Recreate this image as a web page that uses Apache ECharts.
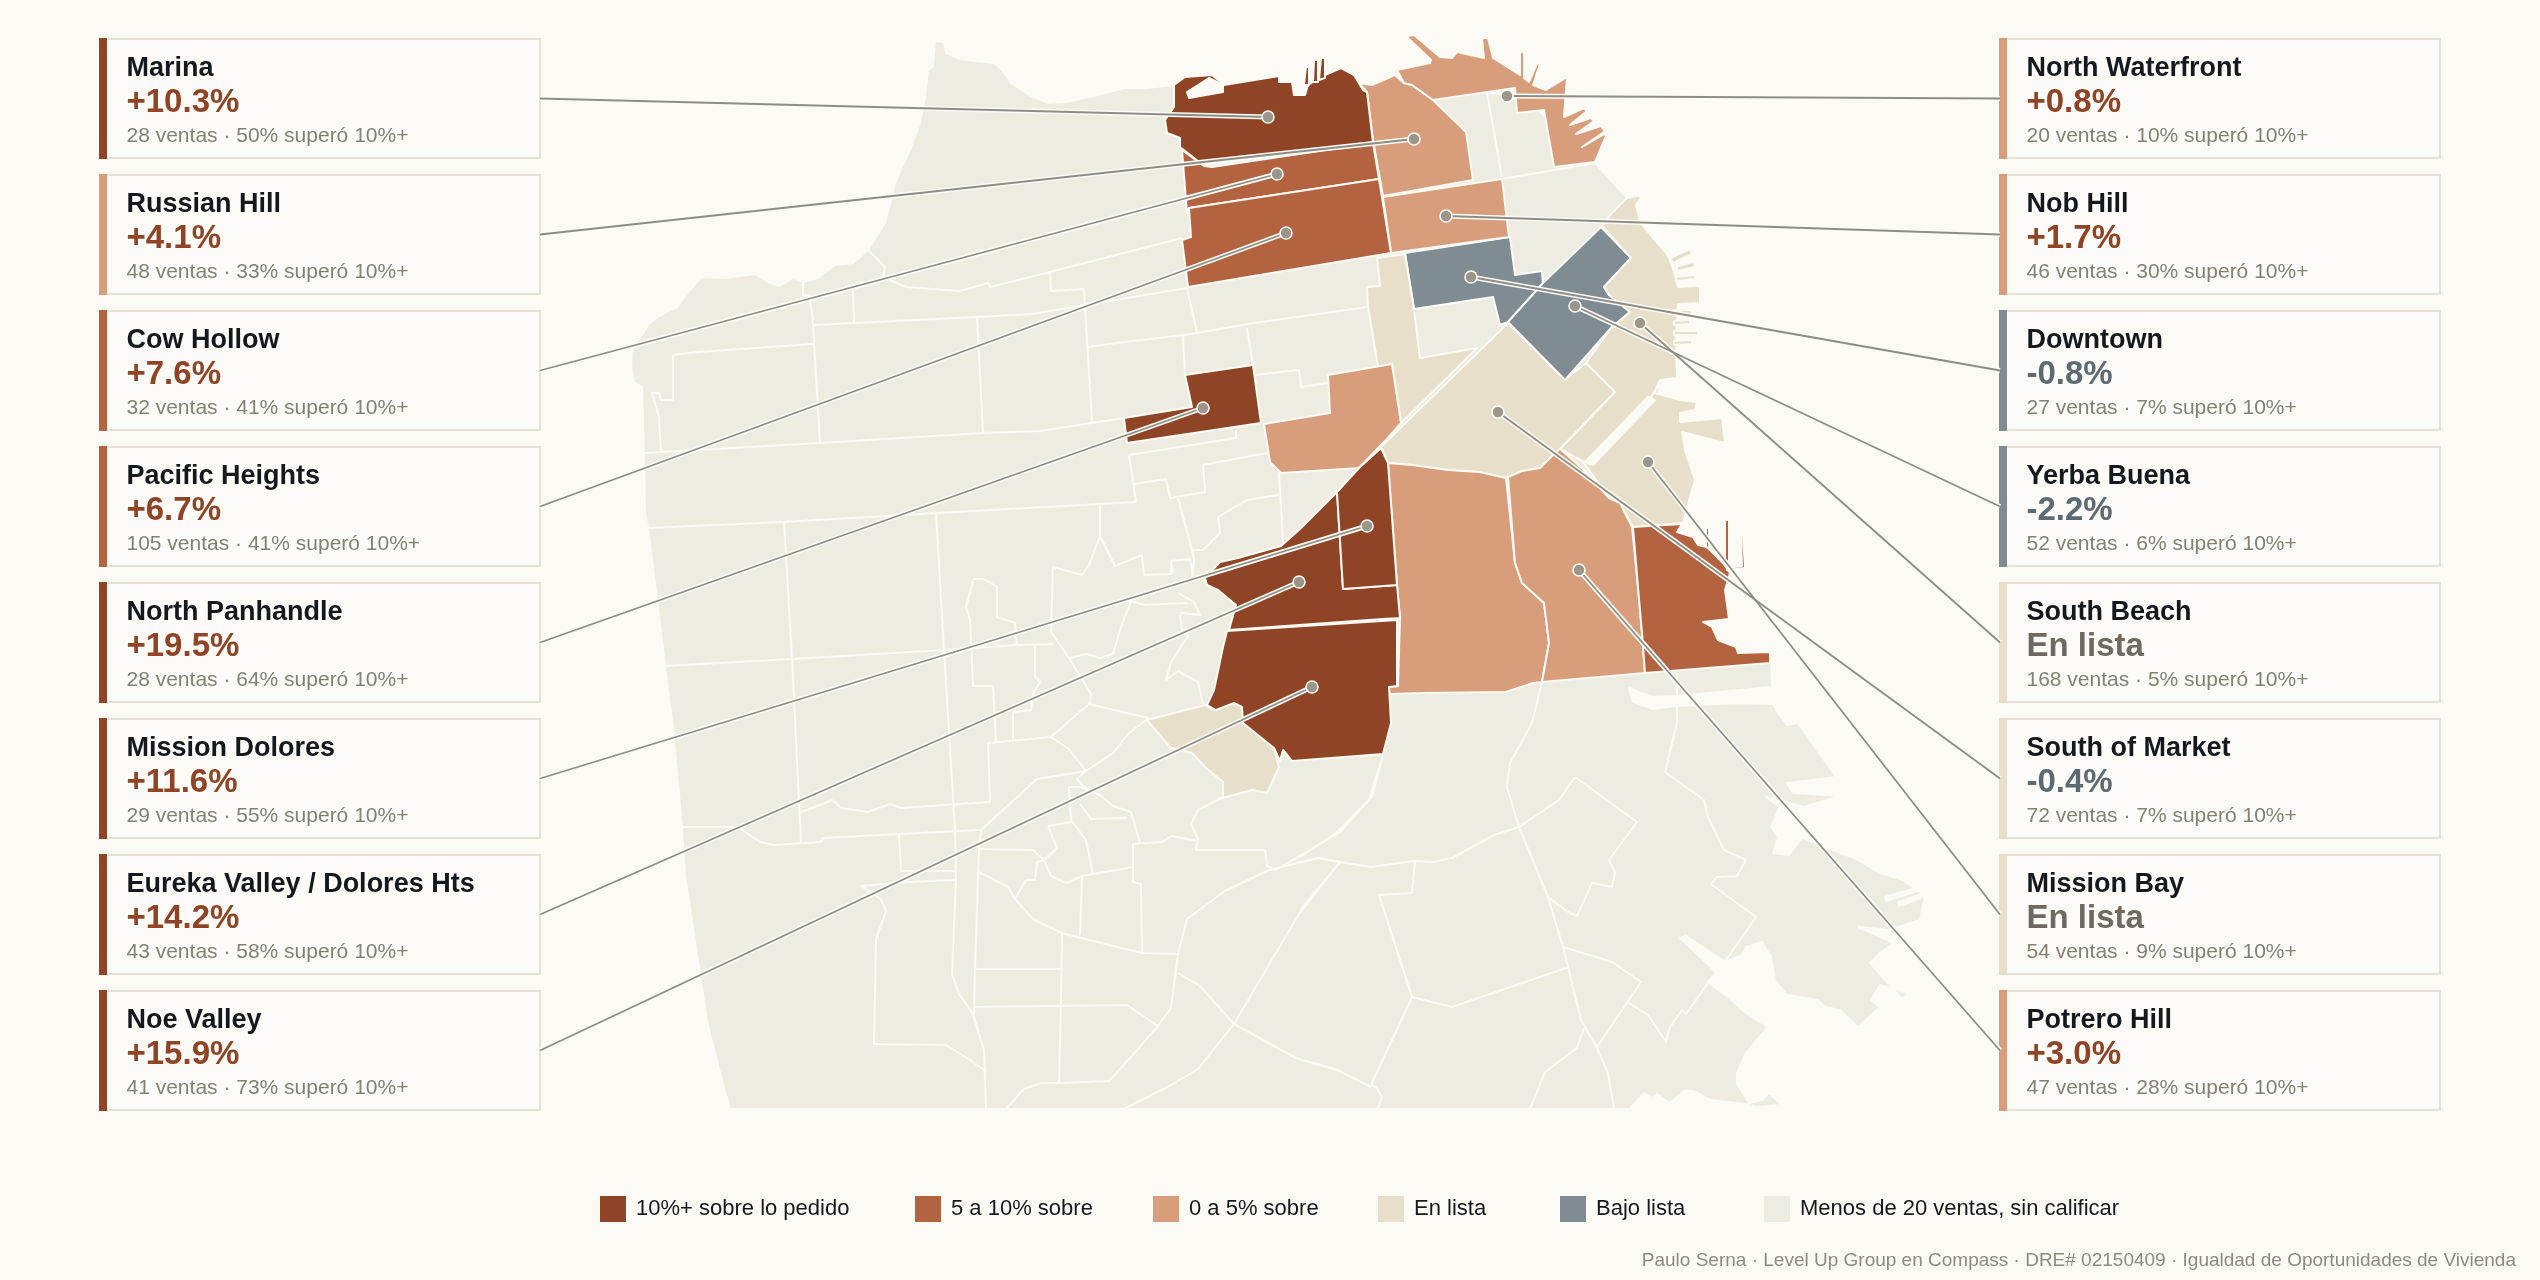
<!DOCTYPE html>
<html>
<head>
<meta charset="utf-8">
<title>San Francisco</title>
<script src="https://cdn.jsdelivr.net/npm/echarts@6/dist/echarts.min.js"></script>
<style>
  html, body { margin: 0; padding: 0; background: #FBFAF5; }
  #chart { width: 2540px; height: 1280px; }
</style>
</head>
<body>
<div id="chart"></div>
<script>
// tarjetas
const leftNames = ['Marina', 'Russian Hill', 'Cow Hollow', 'Pacific Heights', 'North Panhandle', 'Mission Dolores', 'Eureka Valley / Dolores Hts', 'Noe Valley']
const leftValues = ['+10.3%', '+4.1%', '+7.6%', '+6.7%', '+19.5%', '+11.6%', '+14.2%', '+15.9%']
const leftSales = [28, 48, 32, 105, 28, 29, 43, 41]
const leftOver = [50, 33, 41, 41, 64, 55, 58, 73]
const leftClass = [0, 2, 1, 1, 0, 0, 0, 0]
const leftPins = [[1268,117],[1414,139],[1277,174],[1286,233],[1203,408],[1367,526],[1299,582],[1312,687]]

const rightNames = ['North Waterfront', 'Nob Hill', 'Downtown', 'Yerba Buena', 'South Beach', 'South of Market', 'Mission Bay', 'Potrero Hill']
const rightValues = ['+0.8%', '+1.7%', '-0.8%', '-2.2%', 'En lista', '-0.4%', 'En lista', '+3.0%']
const rightSales = [20, 46, 27, 52, 168, 72, 54, 47]
const rightOver = [10, 30, 7, 6, 5, 7, 9, 28]
const rightClass = [2, 2, 4, 4, 3, 3, 3, 2]
const rightPins = [[1507,96],[1446,216],[1471,277],[1575,306],[1640,323],[1498,412],[1648,462],[1579,570]]

const classNames = ['10%+ sobre lo pedido', '5 a 10% sobre', '0 a 5% sobre', 'En lista', 'Bajo lista', 'Menos de 20 ventas, sin calificar']
const classColors = ['#8F4525', '#B3633F', '#D89E7C', '#E8DFCA', '#7F8C94', '#EEEBE1']

// barrios, en unidades del mapa
const landShape = [[1174,85],[1147,88],[1124,88],[1097,95],[1067,102],[1048,103],[1029,95],[1011,83],[1002,70],[994,63],[983,62],[960,59],[946,53],[944,42],[935,41],[933,67],[928,70],[925,97],[920,123],[910,150],[902,167],[895,183],[891,200],[885,223],[868,250],[853,263],[835,265],[818,278],[803,282],[793,278],[780,286],[768,282],[755,274],[726,278],[701,277],[690,290],[677,307],[657,317],[648,325],[642,335],[632,350],[631,367],[634,382],[642,387],[644,453],[645,513],[648,528],[658,607],[665,666],[673,729],[682,828],[685,876],[700,974],[707,1022],[720,1073],[730,1109],[1630,1109],[1644,1093],[1653,1098],[1657,1094],[1670,1103],[1684,1091],[1693,1091],[1711,1100],[1746,1104],[1755,1107],[1782,1105],[1769,1093],[1762,1100],[1749,1103],[1737,1083],[1737,1073],[1746,1053],[1768,1027],[1746,1013],[1729,998],[1708,982],[1724,963],[1742,955],[1746,947],[1762,942],[1771,957],[1775,980],[1787,995],[1818,1000],[1825,1007],[1840,1010],[1858,1027],[1880,1007],[1871,1000],[1880,985],[1907,993],[1903,1000],[1870,963],[1880,953],[1894,943],[1858,927],[1889,930],[1920,920],[1925,895],[1903,880],[1880,873],[1854,858],[1802,838],[1789,855],[1773,853],[1778,837],[1771,827],[1780,807],[1766,797],[1804,807],[1840,796],[1793,793],[1787,783],[1836,777],[1798,723],[1787,725],[1778,713],[1773,704],[1771,663],[1700,640],[1660,530],[1660,400],[1650,290],[1640,225],[1627,198],[1595,163],[1565,140],[1530,100],[1450,85],[1400,110],[1360,110],[1200,110],[1174,107]]

const class0Shapes = [
  [[1174,85],[1185,77],[1212,75],[1224,85],[1279,76],[1279,82],[1292,82],[1294,95],[1305,95],[1308,85],[1325,75],[1341,68],[1354,75],[1363,90],[1367,92],[1373,143],[1203,165],[1180,147],[1180,138],[1167,133],[1165,120],[1174,107]],
  [[1185,375],[1253,365],[1261,423],[1127,443],[1124,418],[1192,407]],
  [[1337,492],[1343,589],[1397,585],[1400,618],[1383,619],[1229,630],[1234,612],[1236,605],[1218,590],[1207,585],[1205,578],[1220,562],[1238,558],[1281,546],[1301,528]],
  [[1337,492],[1359,468],[1381,448],[1388,463],[1397,585],[1343,589]],
  [[1227,631],[1397,620],[1397,686],[1389,687],[1391,723],[1383,754],[1292,761],[1283,750],[1280,761],[1274,748],[1243,723],[1242,707],[1234,703],[1216,710],[1207,705],[1214,690],[1223,647]],
  [[1304,85],[1306,67],[1309,67],[1309,85]],
  [[1313,82],[1314,60],[1318,60],[1318,82]],
  [[1319,80],[1321,58],[1325,58],[1325,78]]
]
const class1Shapes = [
  [[1182,150],[1204,166],[1212,167],[1373,143],[1379,179],[1189,208],[1187,213]],
  [[1189,208],[1379,179],[1391,253],[1188,287],[1182,240],[1191,237]],
  [[1633,527],[1682,524],[1677,532],[1693,537],[1698,545],[1707,547],[1723,563],[1730,573],[1725,590],[1729,619],[1703,622],[1712,627],[1718,640],[1736,647],[1738,653],[1770,652],[1770,663],[1645,673],[1642,633],[1638,587]],
  [[1725,520],[1729,520],[1729,563],[1725,560]],
  [[1706,528],[1709,528],[1709,548],[1706,547]],
  [[1741,535],[1743,535],[1745,568],[1727,570],[1727,568],[1742,566]]
]
const class2Shapes = [
  [[1359,83],[1372,85],[1395,75],[1404,83],[1412,85],[1433,100],[1466,132],[1473,180],[1383,196],[1373,140],[1367,92]],
  [[1397,70],[1430,63],[1431,60],[1406,36],[1414,35],[1440,57],[1452,58],[1457,52],[1484,58],[1482,38],[1488,38],[1493,58],[1520,75],[1520,52],[1524,52],[1524,78],[1529,82],[1537,63],[1540,64],[1533,85],[1546,90],[1567,77],[1564,117],[1584,108],[1587,111],[1570,125],[1591,118],[1594,121],[1576,134],[1601,126],[1606,133],[1582,147],[1604,132],[1606,136],[1595,162],[1554,167],[1544,110],[1517,113],[1515,88],[1433,100],[1412,85],[1404,83]],
  [[1383,197],[1502,179],[1509,237],[1391,253]],
  [[1264,424],[1330,413],[1328,375],[1392,364],[1401,423],[1386,440],[1381,445],[1359,468],[1281,473],[1270,462]],
  [[1388,463],[1412,465],[1448,470],[1479,472],[1506,478],[1515,563],[1522,583],[1544,603],[1549,643],[1542,682],[1533,683],[1506,692],[1424,693],[1390,694],[1388,687],[1398,686],[1400,618],[1397,585]],
  [[1508,477],[1522,471],[1540,468],[1556,452],[1560,449],[1584,470],[1609,498],[1620,503],[1632,527],[1638,587],[1642,633],[1645,673],[1542,682],[1549,643],[1544,603],[1522,583],[1515,563]]
]
const class3Shapes = [
  [[1377,258],[1405,254],[1414,309],[1420,358],[1477,348],[1401,423],[1392,364],[1378,367],[1368,307],[1367,287],[1380,286]],
  [[1381,447],[1508,323],[1565,380],[1586,363],[1615,392],[1561,448],[1540,468],[1522,471],[1506,478],[1479,472],[1448,470],[1412,465],[1388,463]],
  [[1602,226],[1612,213],[1627,198],[1642,195],[1636,205],[1640,222],[1655,240],[1668,255],[1674,272],[1678,287],[1700,286],[1700,303],[1678,304],[1676,340],[1677,378],[1660,380],[1654,393],[1640,410],[1590,460],[1584,462],[1560,449],[1562,447],[1615,392],[1586,363],[1611,328],[1630,312],[1609,295],[1604,287],[1631,258]],
  [[1584,463],[1633,420],[1654,393],[1680,400],[1697,402],[1695,410],[1680,413],[1680,422],[1722,418],[1725,443],[1682,432],[1685,450],[1695,480],[1690,497],[1683,523],[1633,527],[1620,503],[1609,498]],
  [[1147,720],[1205,705],[1215,710],[1234,703],[1242,707],[1243,723],[1274,748],[1279,767],[1267,793],[1252,790],[1223,798],[1223,782],[1205,767],[1192,753],[1171,748]],
  [[1670,258],[1690,249],[1692,254],[1673,263]],
  [[1677,266],[1694,262],[1695,267],[1677,271]],
  [[1676,277],[1695,275],[1695,279],[1676,281]],
  [[1674,310],[1692,310],[1692,314],[1674,314]],
  [[1674,321],[1690,320],[1690,324],[1674,325]],
  [[1674,331],[1698,331],[1698,335],[1674,335]],
  [[1674,341],[1692,340],[1692,344],[1674,345]]
]
const class4Shapes = [
  [[1405,253],[1510,237],[1515,275],[1542,271],[1543,287],[1535,292],[1508,322],[1500,325],[1493,297],[1414,309]],
  [[1601,227],[1631,258],[1604,287],[1609,295],[1630,312],[1611,328],[1565,380],[1508,322],[1535,292],[1543,283]]
]
// agua encima de la tierra
const waterShapes = [
  [[1187,92],[1209,78],[1223,85],[1223,92],[1189,98]],
  [[1629,688],[1633,702],[1653,709],[1675,706],[1740,703],[1773,704],[1771,687],[1677,696],[1653,697],[1639,692]],
  [[1585,462],[1593,465],[1655,400],[1648,397]],
  [[1680,938],[1686,936],[1724,961],[1716,972]],
  [[1885,897],[1920,887],[1921,890],[1886,901]],
  [[1898,902],[1922,894],[1923,897],[1899,906]]
]
const boundaryLines = [
  [[868,250],[885,267],[883,277],[906,287],[960,291],[988,283],[990,287],[1050,272],[1182,238]],
  [[1050,272],[1051,291],[1084,289],[1085,307],[1092,422]],
  [[803,282],[803,295],[809,295],[812,313],[813,325],[820,443]],
  [[813,325],[854,323],[977,317],[1032,314],[1085,305],[1187,288]],
  [[854,323],[853,290]],
  [[977,317],[983,433]],
  [[673,355],[698,352],[813,344]],
  [[673,355],[673,400],[661,400],[659,393],[652,393],[659,417],[661,452]],
  [[644,453],[820,443],[983,433],[1040,431],[1124,418]],
  [[1088,347],[1124,342],[1183,335],[1197,333],[1254,323],[1368,307]],
  [[1187,288],[1197,333]],
  [[1183,335],[1185,375]],
  [[1247,328],[1253,365]],
  [[1254,375],[1299,370],[1301,387],[1328,383]],
  [[648,528],[783,522],[937,513],[1100,504],[1136,502]],
  [[784,522],[792,658],[801,842]],
  [[936,513],[944,650],[955,830],[956,880],[952,974],[959,994],[973,1014],[984,1050],[986,1109]],
  [[665,666],[792,659],[944,650],[1017,645],[1053,644]],
  [[1100,504],[1100,536],[1115,566],[1142,555],[1144,575],[1171,574],[1171,561],[1190,559],[1193,575]],
  [[1100,536],[1089,565],[1082,575],[1053,567],[1051,632],[1069,658],[1091,694],[1090,704]],
  [[973,579],[984,579],[997,587],[997,617],[1015,623],[1017,645]],
  [[973,581],[966,607],[970,619],[973,686],[993,686],[996,741]],
  [[1035,646],[1035,676],[1040,682],[1033,694],[1031,710],[1013,712],[1013,739]],
  [[988,743],[1051,737],[1089,704],[1127,713],[1149,718]],
  [[1051,737],[1069,749],[1086,771]],
  [[988,743],[990,802],[901,808],[890,804],[868,812],[841,808],[832,800],[823,804],[801,812]],
  [[682,827],[738,827],[760,842],[774,845],[821,842],[823,838],[899,834],[981,830],[1037,779],[1086,771]],
  [[899,834],[901,871],[956,871]],
  [[861,886],[908,882],[956,880]],
  [[861,886],[881,899],[886,911],[876,939],[874,1044],[946,1045],[970,1060],[986,1071]],
  [[981,830],[979,848],[975,969],[974,1014]],
  [[979,849],[1033,850],[1044,860]],
  [[979,872],[1008,887],[1015,899],[1033,919],[1062,933],[1069,935],[1142,953],[1178,954]],
  [[975,969],[1061,969]],
  [[1062,933],[1061,1002],[1059,1083]],
  [[974,1007],[1127,1005],[1158,1026]],
  [[1059,1083],[1109,1081],[1131,1057],[1158,1026],[1171,1008],[1178,954],[1187,919],[1225,891],[1269,870],[1319,858],[1340,862]],
  [[1006,1109],[1024,1089],[1042,1083],[1059,1083]],
  [[1124,1109],[1171,1085],[1198,1069],[1234,1024],[1200,986],[1178,973]],
  [[1234,1024],[1296,1058],[1340,1071]],
  [[1234,1024],[1303,907],[1340,862]],
  [[1276,870],[1340,832],[1369,800],[1383,755]],
  [[1198,810],[1223,797]],
  [[1198,810],[1191,824],[1198,840],[1196,850],[1265,850],[1267,866],[1276,870]],
  [[1133,844],[1133,882],[1141,884],[1142,953]],
  [[1133,844],[1162,842],[1171,836],[1198,841]],
  [[1133,867],[1093,874],[1082,876],[1080,935]],
  [[1140,843],[1131,812],[1113,806],[1100,795],[1080,787],[1069,787],[1071,820],[1086,840],[1093,874]],
  [[1127,818],[1091,819],[1080,804]],
  [[1048,826],[1071,822]],
  [[1048,826],[1057,848],[1044,860],[1051,876],[1066,883],[1082,876]],
  [[1044,860],[1037,862],[1035,880],[1026,880],[1015,899]],
  [[1149,718],[1129,733],[1113,753],[1086,771]],
  [[1086,771],[1077,779],[1084,787],[1100,795]],
  [[1131,601],[1144,605],[1187,603]],
  [[1131,601],[1120,630],[1113,654],[1100,658],[1086,654],[1069,658]],
  [[1180,613],[1200,615],[1194,602],[1178,593]],
  [[1180,615],[1182,630],[1188,636],[1171,662],[1166,680],[1178,671],[1198,682],[1203,704]],
  [[1129,455],[1236,438],[1236,430]],
  [[1129,455],[1136,502]],
  [[1134,484],[1166,479],[1170,498],[1205,492],[1203,465],[1267,453]],
  [[1279,473],[1283,542]],
  [[1178,498],[1192,550],[1194,560],[1192,577]],
  [[1173,573],[1171,561]],
  [[1192,550],[1203,550],[1220,533],[1218,517],[1247,500],[1265,497],[1279,495]],
  [[1542,682],[1532,723],[1510,763],[1507,787],[1519,827],[1548,897],[1563,947],[1581,1020],[1597,1048],[1608,1073],[1614,1109]],
  [[1383,755],[1372,797],[1369,800],[1336,833],[1300,857]],
  [[1677,673],[1677,723],[1665,772],[1704,800],[1708,817],[1724,850],[1735,855],[1746,860],[1737,876],[1717,877],[1711,884],[1756,917],[1724,963]],
  [[1575,777],[1637,822],[1609,860],[1615,872],[1612,887],[1592,883],[1577,916],[1568,912],[1548,897]],
  [[1575,777],[1559,800],[1519,827],[1494,835],[1452,858],[1434,862],[1414,861],[1371,867],[1340,862],[1318,858],[1300,862]],
  [[1415,862],[1412,893],[1379,895],[1412,997],[1452,1007],[1569,967]],
  [[1563,947],[1612,962],[1641,982],[1597,1047]],
  [[1627,1002],[1648,1015],[1666,1042],[1670,1027],[1682,1010],[1686,1014],[1708,983]],
  [[1412,997],[1371,1085],[1376,1087],[1382,1097],[1378,1109]],
  [[1300,1060],[1333,1068],[1371,1087]],
  [[1584,1028],[1577,1048],[1545,1072],[1530,1109]],
  [[1340,862],[1300,913]],
  [[1487,93],[1502,177]],
  [[1502,179],[1595,163]],
  [[1580,430],[1597,447]]
]

const footerText = 'Paulo Serna · Level Up Group en Compass · DRE# 02150409 · Igualdad de Oportunidades de Vivienda'

const bg = '#FBFAF5'
const font = '"Liberation Sans", Arial, sans-serif'
const valueColor = v => v === 'En lista' ? '#6F695F' : v[0] === '-' ? '#5C6A73' : '#8F4525'

const chart = echarts.init(document.getElementById('chart'), null, { renderer: 'canvas' })

// polígonos de una clase; lleva el color por itemStyle para que la leyenda lo tome
function areaSeries(name, shapes, color, stroke) {
  return {
    type: 'custom', name, coordinateSystem: 'cartesian2d', clip: false, silent: true,
    itemStyle: { color },
    data: shapes.map((_, i) => [i]),
    renderItem: (params, api) => ({
      type: 'polygon',
      shape: { points: shapes[api.value(0)].map(p => api.coord(p)) },
      style: { fill: color, stroke, lineWidth: 2, lineJoin: 'round' },
    }),
  }
}

function cardElements(names, values, sales, over, classes, x, width) {
  const out = []
  names.forEach((n, i) => {
    const top = 39 + 136 * i
    out.push(
      { type: 'rect', z: 1, shape: { x, y: top, width, height: 119 }, style: { fill: '#FDFBF8', stroke: '#E5E1D8', lineWidth: 2 } },
      { type: 'rect', z: 2, shape: { x: x - 1, y: top - 1, width: 8, height: 121 }, style: { fill: classColors[classes[i]] } },
      { type: 'text', z: 3, x: x + 26.5, y: top + 29.5, style: { text: n, font: `bold 27px ${font}`, fill: '#15181C', verticalAlign: 'middle' } },
      { type: 'text', z: 3, x: x + 26.5, y: top + 63.5, style: { text: values[i], font: `bold 33px ${font}`, fill: valueColor(values[i]), verticalAlign: 'middle' } },
      { type: 'text', z: 3, x: x + 26.5, y: top + 97.5, style: { text: `${sales[i]} ventas · ${over[i]}% superó 10%+`, font: `21px ${font}`, fill: '#857F75', verticalAlign: 'middle' } },
    )
  })
  return out
}

const cardMid = i => 39 + 136 * i + 59.5
const leaders = [
  ...leftPins.map((p, i) => ({ coords: [[540, cardMid(i)], p] })),
  ...rightPins.map((p, i) => ({ coords: [[2000, cardMid(i)], p] })),
]
const legendLeft = [600, 915, 1153, 1378, 1560, 1764]

chart.setOption({
  animation: false,
  backgroundColor: bg,
  title: {
    text: footerText, right: 19, top: 1246,
    textStyle: { color: '#8F8A80', fontFamily: font, fontSize: 19, fontWeight: 'normal' },
  },
  legend: classNames.map((n, i) => ({
    data: [n], left: legendLeft[i], top: 1196, padding: 0,
    icon: 'rect', itemWidth: 26, itemHeight: 26, selectedMode: false,
    textStyle: { color: '#15181C', fontFamily: font, fontSize: 22, padding: [0, 0, 0, 5] },
  })),
  grid: { left: 0, right: 0, top: 0, bottom: 0 },
  xAxis: { type: 'value', min: 0, max: 2540, show: false },
  yAxis: { type: 'value', min: 0, max: 1280, inverse: true, show: false },
  graphic: { elements: [
    ...cardElements(leftNames, leftValues, leftSales, leftOver, leftClass, 100, 440),
    ...cardElements(rightNames, rightValues, rightSales, rightOver, rightClass, 2000, 440),
  ] },
  series: [
    areaSeries(classNames[5], [landShape], classColors[5], bg),
    {
      type: 'custom', name: 'limites', coordinateSystem: 'cartesian2d', clip: false, silent: true,
      data: boundaryLines.map((_, i) => [i]),
      renderItem: (params, api) => ({
        type: 'polyline',
        shape: { points: boundaryLines[api.value(0)].map(p => api.coord(p)) },
        style: { fill: null, stroke: bg, lineWidth: 2, lineJoin: 'round' },
      }),
    },
    areaSeries(classNames[4], class4Shapes, classColors[4], bg),
    areaSeries(classNames[3], class3Shapes, classColors[3], bg),
    areaSeries(classNames[2], class2Shapes, classColors[2], bg),
    areaSeries(classNames[1], class1Shapes, classColors[1], bg),
    areaSeries(classNames[0], class0Shapes, classColors[0], bg),
    areaSeries('agua', waterShapes, bg, bg),
    {
      type: 'lines', name: 'halo', coordinateSystem: 'cartesian2d', silent: true, zlevel: 0,
      data: leaders, lineStyle: { color: bg, width: 5, opacity: 1, curveness: 0 },
    },
    {
      type: 'lines', name: 'guia', coordinateSystem: 'cartesian2d', silent: true, zlevel: 0,
      data: leaders, lineStyle: { color: '#8F8C85', width: 1.8, opacity: 1, curveness: 0 },
    },
    {
      type: 'scatter', name: 'puntos', coordinateSystem: 'cartesian2d', silent: true,
      symbol: 'circle', symbolSize: 12,
      data: [...leftPins, ...rightPins],
      itemStyle: { color: '#9C958A', borderColor: bg, borderWidth: 1.6, opacity: 1 },
    },
  ],
})
</script>
</body>
</html>
